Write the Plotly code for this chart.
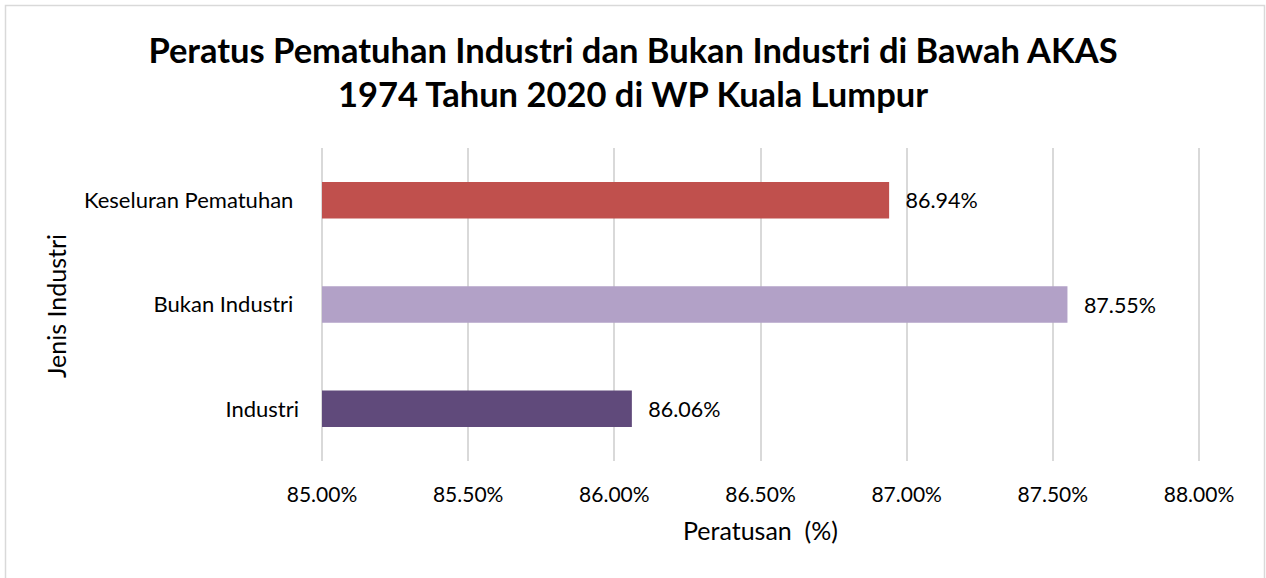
import plotly.graph_objects as go

categories = ["Industri", "Bukan Industri", "Keseluran Pematuhan"]
tick_labels = ["Industri", "Bukan Industri\u00a0", "Keseluran Pematuhan\u00a0"]
values = [86.06, 87.55, 86.94]
colors = ["#604A7B", "#B2A1C7", "#C0504D"]
x_ticks = [85.0, 85.5, 86.0, 86.5, 87.0, 87.5, 88.0]
x_tick_labels = ["85.00%", "85.50%", "86.00%", "86.50%", "87.00%", "87.50%", "88.00%"]
x_min, x_max = 85.0, 88.0

W, H = 1266, 578
PAD = 3  # extra px each side so edge gridlines are not clipped
L, R, T, B = 322 - PAD, 67 - PAD, 148, 117
pw, ph = W - L - R, H - T - B
per_px = (x_max - x_min) / (pw - 2 * PAD)

FONT = "Lato, Calibri, Carlito, sans-serif"

fig = go.Figure(go.Bar(
    y=categories,
    x=[v - x_min for v in values],
    base=x_min,
    orientation="h",
    marker=dict(color=colors, line=dict(width=0)),
    width=0.35,
    text=["\u2002\u2009" + f"{v:.2f}%" for v in values],
    textposition="outside",
    textfont=dict(size=21.5, color="#000000", family=FONT),
    cliponaxis=False,
    hoverinfo="skip",
))

def px_x(p):
    return (p - L) / pw

def px_y(p):
    return (H - B - p) / ph

fig.update_layout(
    width=W, height=H,
    margin=dict(l=L, r=R, t=T, b=B),
    paper_bgcolor="white", plot_bgcolor="white",
    showlegend=False,
    font=dict(family=FONT, color="#000000"),
    title=dict(
        text="<b>Peratus Pematuhan Industri dan Bukan Industri di Bawah AKAS<br>1974 Tahun 2020 di WP Kuala Lumpur</b>",
        x=0.5, xanchor="center", yref="container", y=1 - 62.5 / H, yanchor="middle",
        font=dict(size=34.5, family=FONT, color="#000000"),
    ),
    xaxis=dict(
        range=[x_min - PAD * per_px, x_max + PAD * per_px],
        tickvals=x_ticks, ticktext=x_tick_labels,
        showgrid=True, gridcolor="#D9D9D9", gridwidth=1.5,
        zeroline=False, showline=False, ticks="",
        ticklabelstandoff=19,
        tickfont=dict(size=21, family=FONT),
        title=dict(text="Peratusan \u00a0(%)", font=dict(size=25, family=FONT), standoff=17),
        automargin=False,
    ),
    yaxis=dict(
        categoryorder="array", categoryarray=categories,
        tickvals=categories, ticktext=tick_labels,
        tickfont=dict(size=22, family=FONT),
        showgrid=False, zeroline=False, showline=False, ticks="",
        ticklabelstandoff=22 - PAD,
        automargin=False,
    ),
    bargap=0.65,
    annotations=[dict(
        text="Jenis Industri", textangle=-90,
        xref="paper", yref="paper", x=px_x(56), y=px_y(306),
        xanchor="center", yanchor="middle", showarrow=False,
        font=dict(size=25, family=FONT, color="#000000"),
    )],
    shapes=[dict(
        type="rect", xref="paper", yref="paper",
        x0=px_x(5.5), x1=px_x(1264.5), y0=px_y(600), y1=px_y(5.5),
        line=dict(color="#D9D9D9", width=1.5), fillcolor="rgba(0,0,0,0)", layer="below",
    )],
)

fig.write_html(
    "out.html",
    config={"displayModeBar": False},
    post_script="document.body.style.margin='0';document.body.style.overflow='hidden';",
)
